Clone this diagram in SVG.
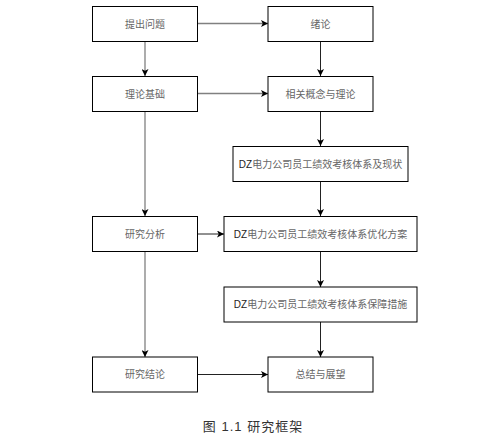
<svg xmlns="http://www.w3.org/2000/svg" width="496" height="439" viewBox="0 0 496 439">
<style>
.box{fill:#fff;stroke:#000;stroke-width:1}
.t{font-family:"Liberation Sans","Noto Sans CJK SC",sans-serif;font-size:10px;fill:#666;text-anchor:middle}
.dz{fill:#222}
.ln{fill:none;stroke:#808080;stroke-width:1.3}
.lk{fill:none;stroke:#222;stroke-width:1}
.cap{font-family:"Liberation Sans","Noto Sans CJK SC",sans-serif;font-size:13px;fill:#333;text-anchor:middle;letter-spacing:1px}
</style>
<defs>
<marker id="ah" viewBox="0 0 10 10" refX="10" refY="5" markerWidth="7" markerHeight="7" markerUnits="userSpaceOnUse" orient="auto">
<path d="M0,0 L10,5 L0,10 L2.5,5 Z" fill="#000"/>
</marker>
</defs>
<rect width="496" height="439" fill="#fff"/>
<g id="connectors">
<line class="ln" x1="197" y1="23.5" x2="268" y2="23.5" marker-end="url(#ah)"/>
<line class="ln" x1="197" y1="93.5" x2="268" y2="93.5" marker-end="url(#ah)"/>
<line class="lk" x1="197" y1="234" x2="224" y2="234" marker-end="url(#ah)"/>
<line class="lk" x1="197" y1="374.5" x2="268" y2="374.5" marker-end="url(#ah)"/>
<line class="ln" x1="145" y1="41" x2="145" y2="76" marker-end="url(#ah)"/>
<line class="ln" x1="145" y1="111" x2="145" y2="216" marker-end="url(#ah)"/>
<line class="ln" x1="145" y1="252" x2="145" y2="357" marker-end="url(#ah)"/>
<line class="lk" x1="320.5" y1="41" x2="320.5" y2="76" marker-end="url(#ah)"/>
<line class="lk" x1="320.5" y1="111" x2="320.5" y2="146" marker-end="url(#ah)"/>
<line class="lk" x1="320.5" y1="182" x2="320.5" y2="216" marker-end="url(#ah)"/>
<line class="lk" x1="320.5" y1="252" x2="320.5" y2="287" marker-end="url(#ah)"/>
<line class="lk" x1="320.5" y1="322" x2="320.5" y2="357" marker-end="url(#ah)"/>
</g>
<g id="n1"><rect class="box" x="92.5" y="6.5" width="105" height="35"/><text class="t" x="145" y="27.5">提出问题</text></g>
<g id="n2"><rect class="box" x="268" y="6.5" width="105" height="35"/><text class="t" x="320.5" y="27.5">绪论</text></g>
<g id="n3"><rect class="box" x="92.5" y="76.5" width="105" height="35"/><text class="t" x="145" y="97.5">理论基础</text></g>
<g id="n4"><rect class="box" x="268" y="76.5" width="105" height="35"/><text class="t" x="320.5" y="97.5">相关概念与理论</text></g>
<g id="n5"><rect class="box" x="233" y="146.5" width="175" height="35"/><text class="t" x="320.5" y="167.5"><tspan class="dz">DZ</tspan>电力公司员工绩效考核体系及现状</text></g>
<g id="n6"><rect class="box" x="92.5" y="216.5" width="105" height="35"/><text class="t" x="145" y="237.5">研究分析</text></g>
<g id="n7"><rect class="box" x="224" y="216.5" width="193" height="35"/><text class="t" x="320.5" y="237.5"><tspan class="dz">DZ</tspan>电力公司员工绩效考核体系优化方案</text></g>
<g id="n8"><rect class="box" x="224" y="287" width="193" height="35"/><text class="t" x="320.5" y="308"><tspan class="dz">DZ</tspan>电力公司员工绩效考核体系保障措施</text></g>
<g id="n9"><rect class="box" x="92.5" y="357" width="105" height="35"/><text class="t" x="145" y="378">研究结论</text></g>
<g id="n10"><rect class="box" x="268" y="357" width="105" height="35"/><text class="t" x="320.5" y="378">总结与展望</text></g>
<text class="cap" x="253" y="430.5" xml:space="preserve">图 1.1 研究框架</text>
</svg>
